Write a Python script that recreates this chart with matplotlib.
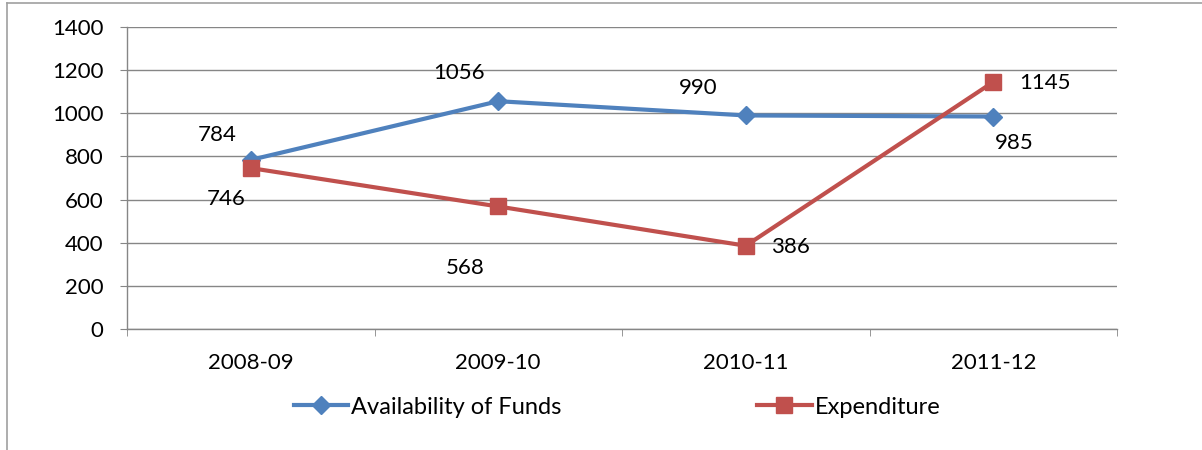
import matplotlib.pyplot as plt
from matplotlib.lines import Line2D

years = ['2008-09', '2009-10', '2010-11', '2011-12']
funds = [784, 1056, 990, 985]
expenditure = [746, 568, 386, 1145]
yticks = [0, 200, 400, 600, 800, 1000, 1200, 1400]

plt.rcParams['font.family'] = ['Lato', 'DejaVu Sans']
fs = 16
blue = '#4F81BD'
red = '#C0504D'
grid_c = '#868686'

fig = plt.figure(figsize=(12.02, 4.5), dpi=100)
ax = fig.add_axes([127 / 1202, 1 - 329 / 450, 990 / 1202, 302 / 450])

x = list(range(len(years)))
ax.plot(x, funds, color=blue, lw=3, marker='D', ms=9, zorder=3)
ax.plot(x, expenditure, color=red, lw=3, marker='s', ms=11, zorder=4)

ax.set_xlim(-0.5, len(years) - 0.5)
ax.set_ylim(0, 1400)
ax.set_yticks(yticks)
ax.set_xticks(x)
ax.set_xticklabels(years)
ax.set_xticks([i - 0.5 for i in range(len(years) + 1)], minor=True)
ax.tick_params(axis='x', which='major', length=0, labelsize=fs, pad=17)
ax.tick_params(axis='x', which='minor', length=5, color=grid_c, direction='out')
ax.tick_params(axis='y', length=5, color=grid_c, labelsize=fs, pad=12)
ax.grid(axis='y', color=grid_c, lw=1)
ax.set_axisbelow(True)
for s in ['top', 'right']:
    ax.spines[s].set_visible(False)
for s in ['left', 'bottom']:
    ax.spines[s].set_color(grid_c)
    ax.spines[s].set_linewidth(1)

# data labels (offsets in points)
funds_off = [(-24, 18), (-28, 20), (-34, 20), (15, -19)]
exp_off = [(-18, -22), (-24, -44), (32, -1), (37, -1)]
for i, v in enumerate(funds):
    ax.annotate(str(v), (i, v), xytext=funds_off[i], textcoords='offset points',
                ha='center', va='center', fontsize=fs)
for i, v in enumerate(expenditure):
    ax.annotate(str(v), (i, v), xytext=exp_off[i], textcoords='offset points',
                ha='center', va='center', fontsize=fs)

handles = [Line2D([], [], color=blue, lw=3, marker='D', ms=9),
           Line2D([], [], color=red, lw=3, marker='s', ms=11)]
fig.legend(handles, ['Availability of Funds', 'Expenditure'], loc='center',
           bbox_to_anchor=(617 / 1202, 1 - 407 / 450), ncol=2, frameon=False,
           fontsize=17, handlelength=2.3, handletextpad=0.12, columnspacing=8.3)

# outer chart frame (only top and left visible)
fig.add_artist(Line2D([7 / 1202, 1], [1 - 3 / 450, 1 - 3 / 450], color='#A0A0A0', lw=1.2))
fig.add_artist(Line2D([7 / 1202, 7 / 1202], [1 - 3 / 450, 0], color='#A0A0A0', lw=1.2))

fig.savefig('out.png', dpi=100)
